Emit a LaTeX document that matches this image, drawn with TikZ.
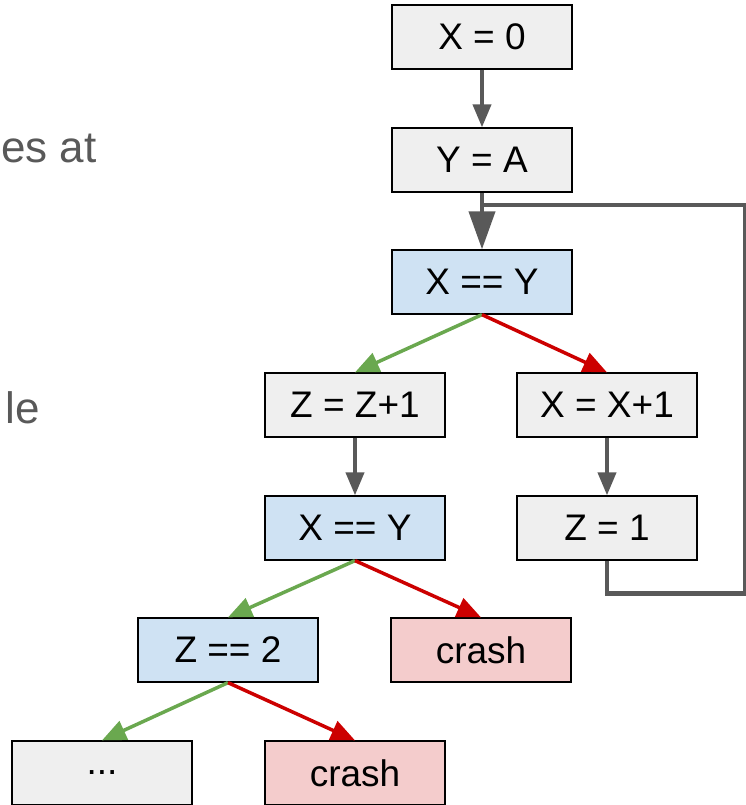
\documentclass[tikz,border=0pt]{standalone}
\usepackage{fontspec}
\setmainfont{Liberation Sans}
\usetikzlibrary{arrows.meta}

\definecolor{boxgray}{HTML}{EFEFEF}
\definecolor{boxblue}{HTML}{CFE2F3}
\definecolor{boxred}{HTML}{F4CCCC}
\definecolor{edgegray}{HTML}{595959}
\definecolor{edgegreen}{HTML}{6AA84F}
\definecolor{edgered}{HTML}{CC0000}

\tikzset{
  stmt/.style={draw=black, line width=1.3pt, minimum width=180pt, minimum height=64pt, inner sep=0pt, font=\fontsize{37}{44}\selectfont},
  plain/.style={stmt, fill=boxgray},
  cond/.style={stmt, fill=boxblue},
  fail/.style={stmt, fill=boxred},
  flow/.style={draw=edgegray, line width=4pt, -{Triangle[length=23pt, width=18pt]}},
  taken/.style={draw=edgegreen, line width=3.5pt, -{Triangle[length=24pt, width=20pt]}},
  nottaken/.style={draw=edgered, line width=3.5pt, -{Triangle[length=24pt, width=20pt]}},
  sidetext/.style={text=edgegray, inner sep=0pt, font=\fontsize{44}{53}\selectfont}
}

\begin{document}
\begin{tikzpicture}[x=1pt, y=-1pt]
  \useasboundingbox (0,0) rectangle (746,805);
  % slide text at the left edge
  \node[sidetext, anchor=base west] (sideA) at (1,163) {es at};
  \node[sidetext, anchor=base east] (sideB) at (40,423) {le};
  % statements
  \node[plain] (x0) at (482,37) {X = 0};
  \node[plain] (ya) at (482,160) {Y = A};
  \node[cond] (xy1) at (482,282) {X == Y};
  \node[plain] (zinc) at (355,405) {Z = Z+1};
  \node[plain] (xinc) at (607,405) {X = X+1};
  \node[cond] (xy2) at (355,528) {X == Y};
  \node[plain] (z1) at (607,528) {Z = 1};
  \node[cond] (z2) at (228,650) {Z == 2};
  \node[fail] (crashA) at (481,650) {crash};
  \node[plain] (more) at (102,773) {...};
  \node[fail] (crashB) at (355,773) {crash};
  % loop back
  \coordinate (loopR) at (745,205);
  \coordinate (join) at (ya.south |- loopR);
  \draw[edgegray, line width=4.5pt] (z1.south) -- ++(0,33) -| (loopR) -- (join);
  % edges
  \draw[flow] (x0) -- (ya);
  \draw[flow, -{Triangle[length=38pt, width=26pt]}] (ya) -- (xy1);
  \draw[taken] (xy1.south) -- (zinc.north);
  \draw[nottaken] (xy1.south) -- (xinc.north);
  \draw[flow] (zinc) -- (xy2);
  \draw[flow] (xinc) -- (z1);
  \draw[taken] (xy2.south) -- (z2.north);
  \draw[nottaken] (xy2.south) -- (crashA.north);
  \draw[taken] (z2.south) -- (more.north);
  \draw[nottaken] (z2.south) -- (crashB.north);
\end{tikzpicture}
\end{document}
